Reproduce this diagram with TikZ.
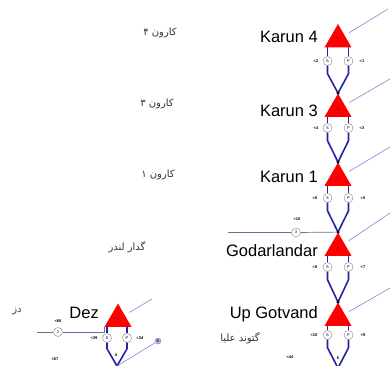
\documentclass[tikz,border=0pt]{standalone}
\usepackage{fontspec}
\setmainfont{Liberation Sans}
\newfontfamily\farsifont[Script=Arabic]{DejaVu Sans}
\TeXXeTstate=1
\usetikzlibrary{shapes.geometric,positioning}
\definecolor{damred}{RGB}{255,0,0}
\definecolor{riverblue}{RGB}{35,35,165}
\definecolor{feedgray}{RGB}{105,112,150}
\definecolor{inflowblue}{RGB}{125,135,210}
\newcommand{\faword}[1]{\mbox{\beginR #1\endR}}
\tikzset{
  dam/.style={
    regular polygon, regular polygon sides=3, fill=damred, draw=none,
    minimum size=31pt, inner sep=0pt,
    font=\fontsize{4}{4}\selectfont, text=red!35!black
  },
  gate/.style={
    circle, draw=gray, fill=white, minimum size=9pt, inner sep=0pt,
    font=\fontsize{4}{4}\selectfont
  },
  tag/.style={font=\fontsize{4}{4}\selectfont\bfseries, inner sep=0pt},
  damname/.style={font=\fontsize{16.5}{18}\selectfont, anchor=base east, inner sep=0pt},
  farsi/.style={font=\farsifont\fontsize{10}{11}\selectfont, text=black!80, inner sep=0pt},
  joint/.style={circle, fill=black, inner sep=0pt, minimum size=3pt},
  river/.style={draw=riverblue, line width=1.6pt},
  feed/.style={draw=feedgray, line width=0.7pt},
  inflow/.style={draw=inflowblue, line width=0.6pt, shorten >=5pt}
}
\begin{document}
\begin{tikzpicture}[x=1pt,y=-1pt]
  \clip (0,0) rectangle (390,365);

  % dams
  \node[dam] (k4) at (338,39.5) {7};
  \node[dam] (k3) at (338,109) {4};
  \node[dam] (k1) at (338,178) {1};
  \node[dam] (gd) at (338,248) {6};
  \node[dam] (ug) at (338,318) {5};
  \node[dam] (dez) at (118,319) {8};

  \node[damname] (k4name) at (318,42) {Karun 4};
  \node[damname] (k3name) at (318,116) {Karun 3};
  \node[damname] (k1name) at (318,182) {Karun 1};
  \node[damname] (gdname) at (318,256) {Godarlandar};
  \node[damname] (ugname) at (318,318) {Up Gotvand};
  \node[damname] (dezname) at (99,318) {Dez};

  \node[farsi] (k4fa) at (160,33) {\faword{۴}\ \faword{کارون}};
  \node[farsi] (k3fa) at (157,104) {\faword{۳}\ \faword{کارون}};
  \node[farsi] (k1fa) at (158,175) {\faword{۱}\ \faword{کارون}};
  \node[farsi] (gdfa) at (127,247) {\faword{لندر}\ \faword{گدار}};
  \node[farsi] (ugfa) at (240,338) {\faword{علیا}\ \faword{گتوند}};
  \node[farsi] (dezfa) at (17,311) {\faword{دز}};

  % spill and power gates
  \node[gate] (k4s) at (327.5,61) {S};
  \node[gate] (k4p) at (348.5,61) {P};
  \node[gate] (k3s) at (327.5,128) {S};
  \node[gate] (k3p) at (348.5,128) {P};
  \node[gate] (k1s) at (327.5,198) {S};
  \node[gate] (k1p) at (348.5,198) {P};
  \node[gate] (gds) at (327.5,267) {S};
  \node[gate] (gdp) at (348.5,267) {P};
  \node[gate] (ugs) at (327.5,335) {S};
  \node[gate] (ugp) at (348.5,335) {P};
  \node[gate] (dezs) at (107,338) {S};
  \node[gate] (dezp) at (127,338) {P};

  \node[tag] (k4sl) at (316,61) {<2};
  \node[tag] (k4pl) at (362,61) {<1};
  \node[tag] (k3sl) at (316,128) {<4};
  \node[tag] (k3pl) at (362,128) {<3};
  \node[tag] (k1sl) at (315,198) {<6};
  \node[tag] (k1pl) at (363,198) {<5};
  \node[tag] (gdsl) at (315,267) {<8};
  \node[tag] (gdpl) at (363,267) {<7};
  \node[tag] (ugsl) at (314,335) {<10};
  \node[tag] (ugpl) at (363,335) {<9};
  \node[tag] (dezsl) at (94,338) {<39};
  \node[tag] (dezpl) at (140,338) {<34};

  % junctions
  \node[joint] (k3j) at (k3.corner 1) {};
  \node[joint] (k1j) at (k1.corner 1) {};
  \node[joint] (gdj) at (gd.corner 1) {};
  \node[joint] (ugj) at (ug.corner 1) {};
  \coordinate (ugout) at (338,368);
  \coordinate (dezout) at (117,366);

  % river reaches
  \draw[river] (k4s) -- (k4s |- k4.corner 2);
  \draw[river] (k4p) -- (k4p |- k4.corner 2);
  \draw[river] (k4s.south) -- ++(0,8) -- (k3j.center);
  \draw[river] (k4p.south) -- ++(0,8) -- (k3j.center);
  \draw[river] (k3s) -- (k3s |- k3.corner 2);
  \draw[river] (k3p) -- (k3p |- k3.corner 2);
  \draw[river] (k3s.south) -- ++(0,8) -- (k1j.center);
  \draw[river] (k3p.south) -- ++(0,8) -- (k1j.center);
  \draw[river] (k1s) -- (k1s |- k1.corner 2);
  \draw[river] (k1p) -- (k1p |- k1.corner 2);
  \draw[river] (k1s.south) -- ++(0,8) -- (gdj.center);
  \draw[river] (k1p.south) -- ++(0,8) -- (gdj.center);
  \draw[river] (gds) -- (gds |- gd.corner 2);
  \draw[river] (gdp) -- (gdp |- gd.corner 2);
  \draw[river] (gds.south) -- ++(0,8) -- (ugj.center);
  \draw[river] (gdp.south) -- ++(0,8) -- (ugj.center);
  \draw[river] (ugs) -- (ugs |- ug.corner 2);
  \draw[river] (ugp) -- (ugp |- ug.corner 2);
  \draw[river] (ugs.south) -- ++(0,8) -- (ugout);
  \draw[river] (ugp.south) -- ++(0,8) -- (ugout);
  \draw[river] (dezs) -- (dezs |- dez.corner 2);
  \draw[river] (dezp) -- (dezp |- dez.corner 2);
  \draw[river] (dezs.south) -- ++(0,6) -- (dezout);
  \draw[river] (dezp.south) -- ++(0,6) -- (dezout);
  \node[joint] at (k3j) {};
  \node[joint] at (k1j) {};
  \node[joint] at (gdj) {};
  \node[joint] at (ugj) {};

  \node[tag] (ugoutl) at (338,358) {6};
  \node[tag] (dezoutl) at (116,355) {A};

  % side feeds
  \coordinate (gdfeed) at (228,232.5);
  \node[gate] (gdq) at (296,232.5) {3};
  \node[tag] (gdql) at (297,219) {<10};
  \draw[feed] (gdfeed) -- (gdq) -- (gdj);
  \coordinate (dezfeed) at (37,332);
  \node[gate] (dezq) at (58,332) {2};
  \node[tag] (dezql) at (58,321) {<66};
  \draw[feed] (dezfeed) -- (dezq) -| (dez.corner 2);
  \node[tag] (dezlow) at (55,359) {<67};
  \node[tag] (uglow) at (290,357) {<44};
  \node[gate, minimum size=6pt, draw=inflowblue, fill=inflowblue!60] (dezb) at (158,341) {B};
  \draw[inflow, shorten >=0pt] (dezout) -- (dezb);

  % inflows
  \coordinate (k4in) at (388,9);
  \coordinate (k3in) at (390,79);
  \coordinate (k1in) at (390,147);
  \coordinate (gdin) at (390,213);
  \coordinate (ugin) at (390,288);
  \coordinate (dezin) at (152,299);
  \draw[inflow] (k4in) -- (k4);
  \draw[inflow] (k3in) -- (k3);
  \draw[inflow] (k1in) -- (k1);
  \draw[inflow] (gdin) -- (gd);
  \draw[inflow] (ugin) -- (ug);
  \draw[inflow] (dezin) -- (dez);
\end{tikzpicture}
\end{document}
